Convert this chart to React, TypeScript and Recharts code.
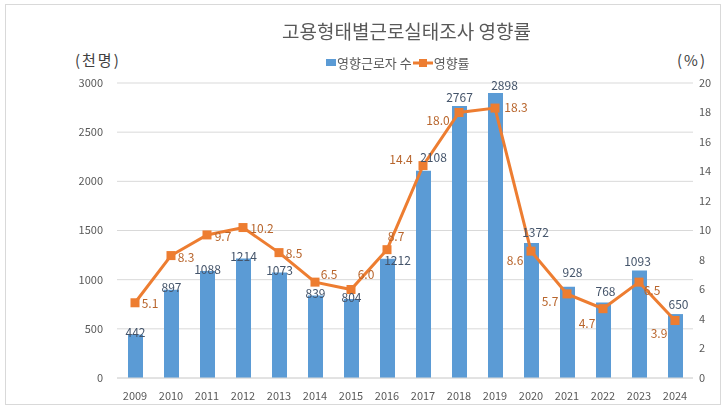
import React from 'react';
import {
  ComposedChart, Bar, Line, XAxis, YAxis, CartesianGrid, LabelList, Legend,
} from 'recharts';

const years = ['2009','2010','2011','2012','2013','2014','2015','2016','2017','2018','2019','2020','2021','2022','2023','2024'];
const workers = [442, 897, 1088, 1214, 1073, 839, 804, 1212, 2108, 2767, 2898, 1372, 928, 768, 1093, 650];
const rates = [5.1, 8.3, 9.7, 10.2, 8.5, 6.5, 6.0, 8.7, 14.4, 18.0, 18.3, 8.6, 5.7, 4.7, 6.5, 3.9];
const leftTicks = [0, 500, 1000, 1500, 2000, 2500, 3000];
const rightTicks = [0, 2, 4, 6, 8, 10, 12, 14, 16, 18, 20];

const TITLE = '고용형태별근로실태조사 영향률';
const BAR_NAME = '영향근로자 수';
const LINE_NAME = '영향률';

const data = years.map((y, i) => ({ year: y, workers: workers[i], rate: rates[i] }));

// label placement offsets (style only)
const barLabelOffsets: [number, number][] = [
  [0, -3], [0, -3], [0, -3], [0, -3], [0, -3], [0, -3], [0, -2], [10, 1],
  [10, -14], [0, -9], [9, -9], [4, -12], [5, -15], [2, -12], [-2, -10], [3, -11],
];
const lineLabelOffsets: [number, number][] = [
  [15, 0], [15, 1], [16, 1], [19, 0], [15, 0], [14, -9], [15, -16], [9, -14],
  [-22, -7], [-21, 7], [21, -2], [-16, 8], [-17, 7], [-16, 14], [13, 7], [-16, 12],
];

const FONT = '"Noto Sans CJK KR", "Noto Sans", sans-serif';
const BLUE = '#5B9BD5';
const ORANGE = '#ED7D31';
const GRAY = '#595959';

const BarLabel = (props: any) => {
  const { x, y, width, value, index } = props;
  const [dx, dy] = barLabelOffsets[index] || [0, -5];
  return (
    <text x={x + width / 2 + dx} y={y + dy} textAnchor="middle" dominantBaseline="central"
      fontSize={12} fill="#44546A" fontFamily={FONT}>{value}</text>
  );
};

const LineLabel = (props: any) => {
  const { x, y, value, index } = props;
  const [dx, dy] = lineLabelOffsets[index] || [15, 0];
  return (
    <text x={x + dx} y={y + dy} textAnchor="middle" dominantBaseline="central"
      fontSize={12} fill="#B8652C" fontFamily={FONT}>{Number(value).toFixed(1)}</text>
  );
};

const SquareDot = (props: any) => {
  const { cx, cy, index } = props;
  return <rect key={`d${index}`} x={cx - 4.5} y={cy - 4.5} width={9} height={9} fill={ORANGE} />;
};

const LegendContent = () => (
  <div style={{ display: 'flex', alignItems: 'center', fontFamily: FONT, fontSize: 13, color: GRAY, whiteSpace: 'nowrap' }}>
    <span style={{ display: 'inline-block', width: 10, height: 7, background: BLUE, marginRight: 1 }} />
    <span>{BAR_NAME}</span>
    <svg width={20} height={10} style={{ margin: '0 1px' }}>
      <line x1={0} y1={5} x2={20} y2={5} stroke={ORANGE} strokeWidth={3} />
      <rect x={6} y={1} width={8} height={8} fill={ORANGE} />
    </svg>
    <span>{LINE_NAME}</span>
  </div>
);

export default function App() {
  return (
    <div style={{ position: 'fixed', left: 0, top: 0, width: 727, height: 409, background: '#fff', fontFamily: FONT }}>
      <div style={{ position: 'absolute', left: 5, top: 4, width: 716, height: 401, border: '1px solid #D9D9D9', boxSizing: 'border-box' }} />
      <div style={{ position: 'absolute', left: 0, top: 17, width: 813, textAlign: 'center', fontSize: 19, color: GRAY }}>{TITLE}</div>
      <div style={{ position: 'absolute', left: 75, top: 49, fontSize: 15, letterSpacing: 2, color: '#404040' }}>(천명)</div>
      <div style={{ position: 'absolute', left: 677, top: 49, fontSize: 15, letterSpacing: 2, color: '#404040' }}>(%)</div>
      <div style={{ position: 'absolute', left: 0, top: 0 }}>
        <ComposedChart width={727} height={409} data={data} margin={{ top: 83, right: 0, bottom: 0, left: 0 }}>
          <CartesianGrid yAxisId="left" vertical={false} stroke="#D9D9D9" />
          <XAxis dataKey="year" height={31} tickLine={false} axisLine={{ stroke: '#D9D9D9' }}
            tickSize={6} tickMargin={8} tick={{ fontSize: 11, fill: GRAY, fontFamily: FONT }} interval={0} />
          <YAxis yAxisId="left" domain={[0, 3000]} ticks={leftTicks} width={117} axisLine={false} tickLine={false}
            tickSize={6} tickMargin={8} tick={{ fontSize: 11, fill: GRAY, fontFamily: FONT }} />
          <YAxis yAxisId="right" orientation="right" domain={[0, 20]} ticks={rightTicks} width={34} axisLine={false} tickLine={false}
            tickSize={3} tickMargin={3} tick={{ fontSize: 11, fill: GRAY, fontFamily: FONT, textAnchor: 'start' }} />
          <Legend verticalAlign="middle" content={<LegendContent />} wrapperStyle={{ top: 53, left: 326, width: 220, height: 18 }} />
          <Bar yAxisId="left" dataKey="workers" name={BAR_NAME} fill={BLUE} barSize={15} isAnimationActive={false}>
            <LabelList dataKey="workers" content={<BarLabel />} />
          </Bar>
          <Line yAxisId="right" dataKey="rate" name={LINE_NAME} stroke={ORANGE} strokeWidth={3} type="linear"
            dot={<SquareDot />} activeDot={false} isAnimationActive={false}>
            <LabelList dataKey="rate" content={<LineLabel />} />
          </Line>
        </ComposedChart>
      </div>
    </div>
  );
}
